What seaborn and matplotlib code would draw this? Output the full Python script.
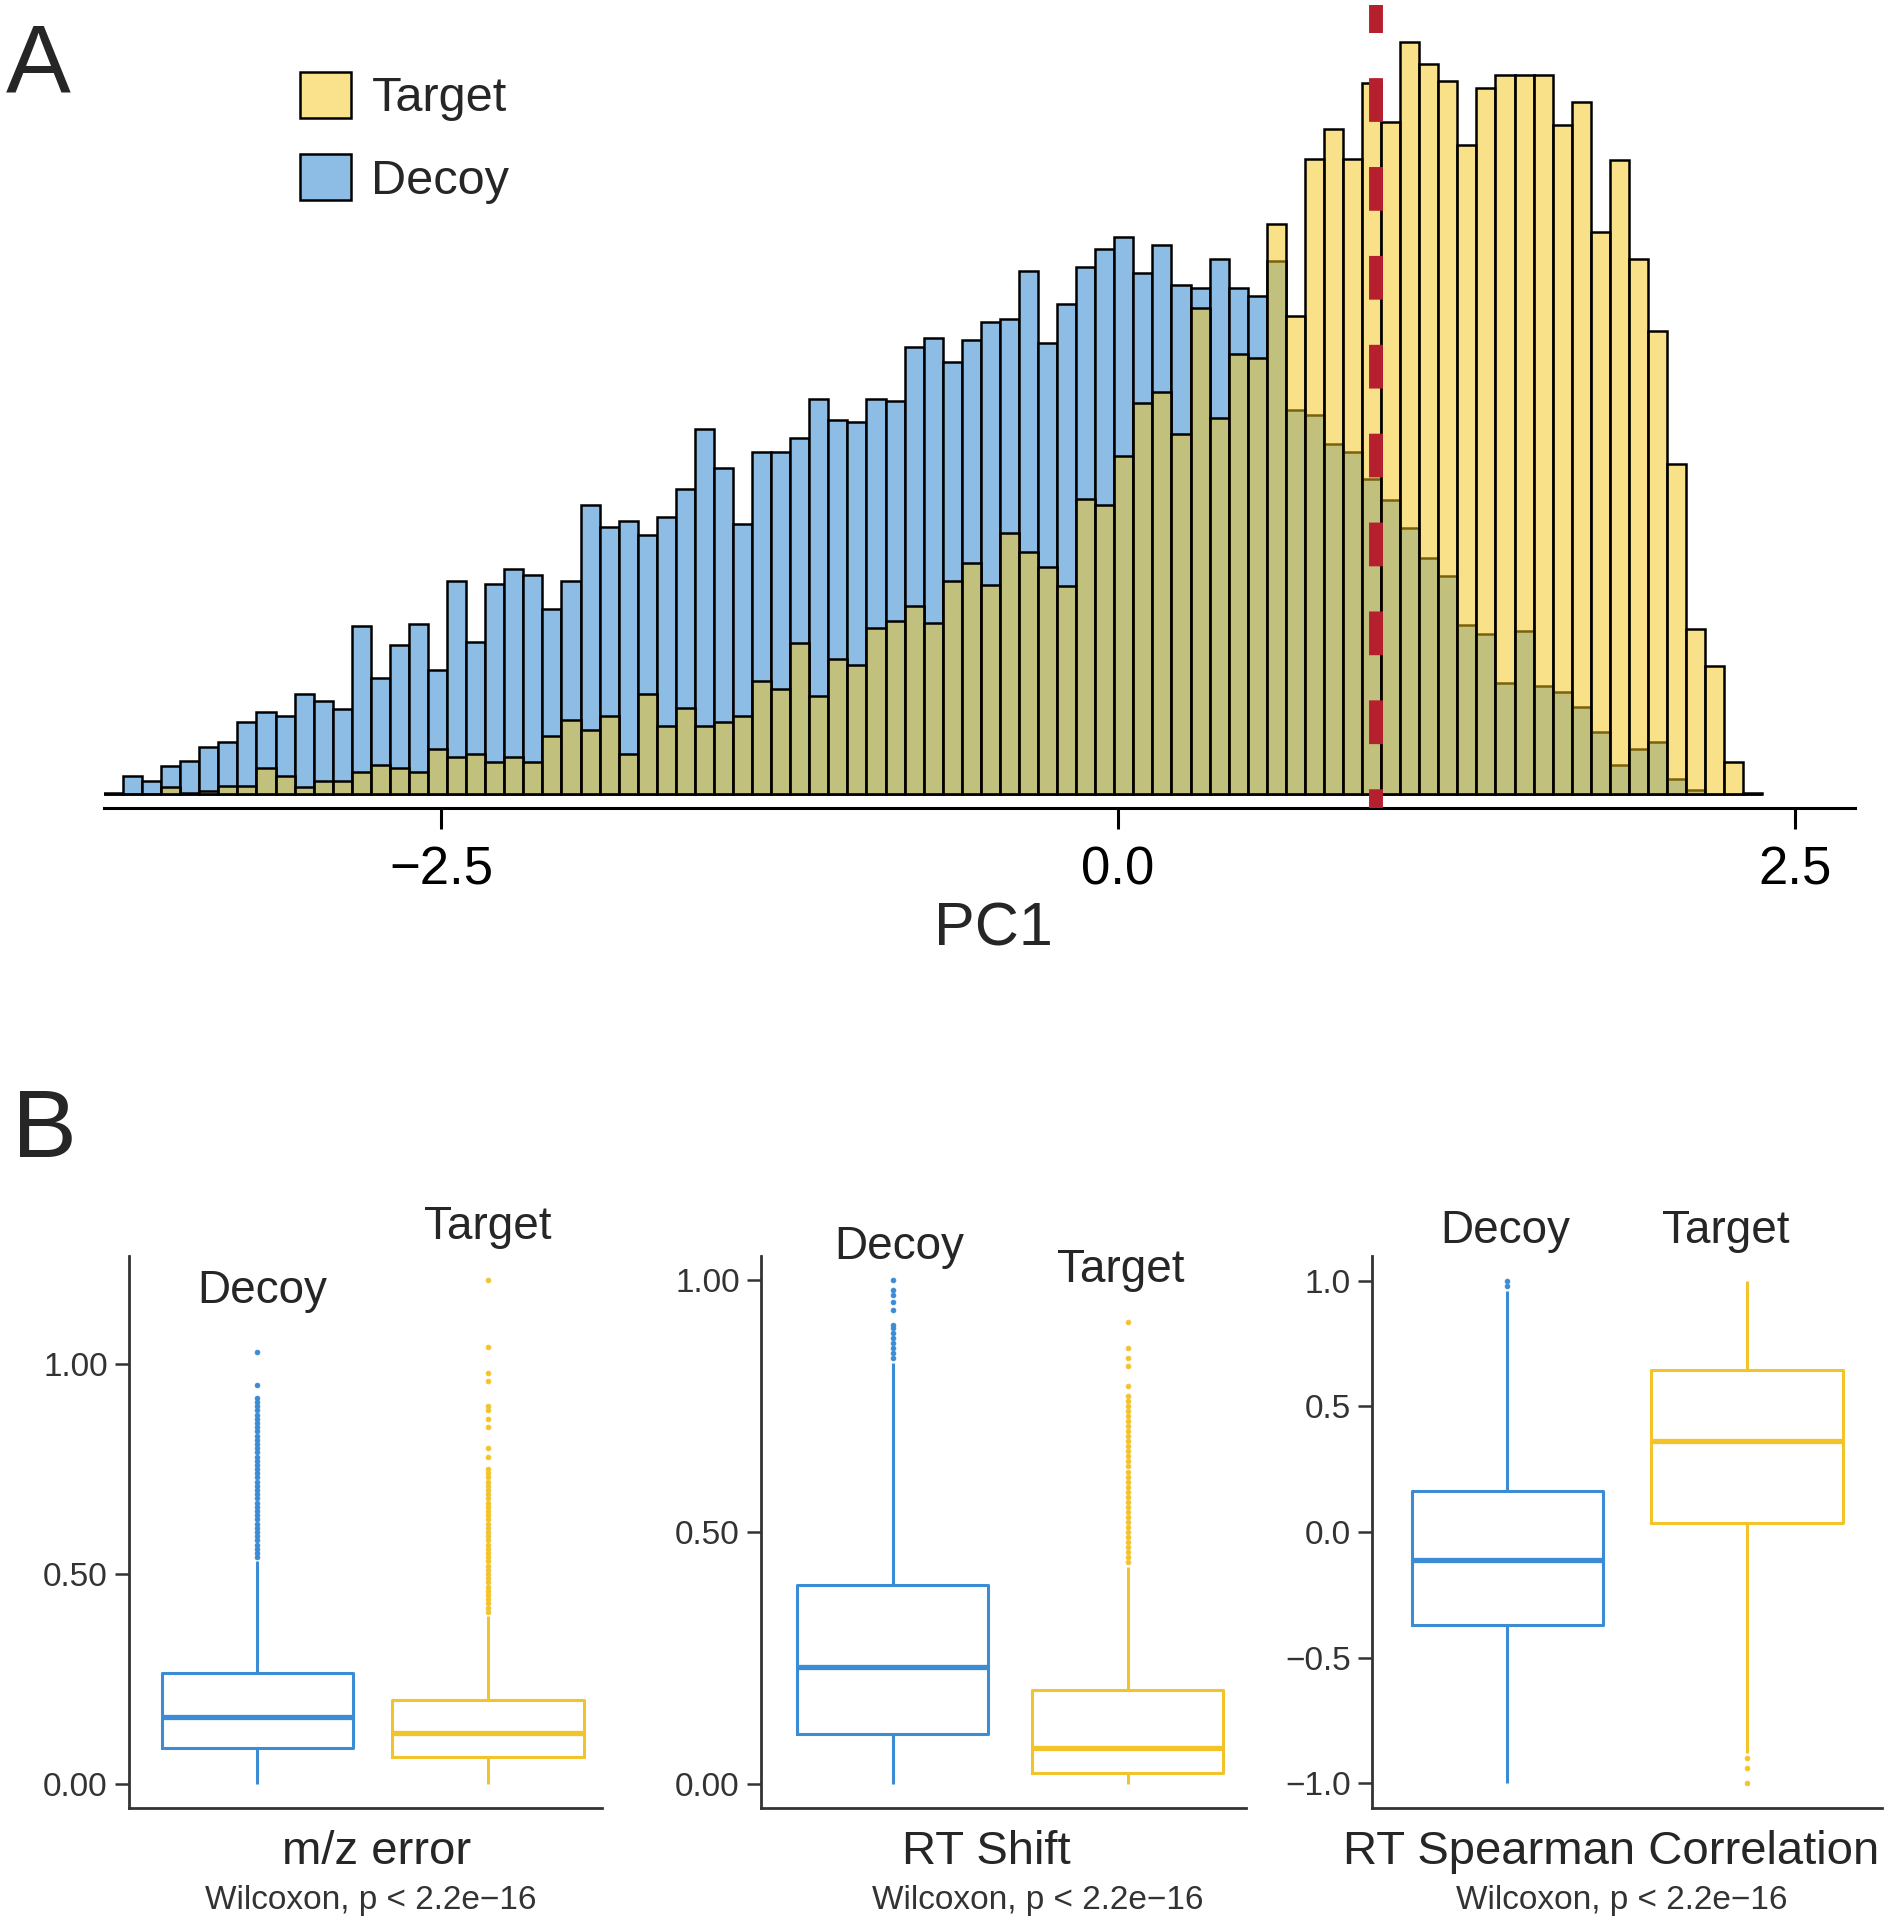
import numpy as np
import pandas as pd
import seaborn as sns
import matplotlib.pyplot as plt
from matplotlib.patches import Patch

# ---- panel A: PC1 histogram (bin counts) ----
bin_start = -3.745
bin_width = 0.0704
decoy_counts = [1, 18, 13, 28, 33, 47, 52, 72, 82, 78,
                100, 93, 85, 168, 116, 149, 170, 124, 213, 152,
                210, 225, 219, 185, 213, 289, 267, 273, 259, 277,
                305, 365, 326, 270, 342, 342, 356, 395, 374, 372,
                395, 393, 447, 456, 432, 454, 472, 475, 523, 451,
                490, 527, 545, 557, 521, 549, 509, 506, 535, 506,
                498, 533, 384, 379, 350, 342, 315, 294, 266, 236,
                218, 169, 160, 111, 163, 108, 102, 87, 62, 29,
                45, 52, 15, 4, 0, 0, 0]
target_counts = [0, 0, 0, 7, 1, 3, 8, 8, 26, 18,
                 7, 13, 13, 22, 29, 26, 22, 45, 37, 40,
                 32, 37, 32, 58, 74, 64, 78, 40, 100, 68,
                 86, 68, 72, 78, 113, 105, 151, 98, 135, 129,
                 166, 173, 188, 171, 213, 231, 209, 261, 242, 227,
                 208, 295, 289, 338, 391, 402, 360, 486, 376, 440,
                 436, 570, 478, 635, 665, 635, 711, 672, 752, 730,
                 713, 649, 706, 719, 719, 719, 669, 692, 562, 634,
                 535, 463, 330, 165, 128, 32, 1]
cutoff = 0.953

# ---- panel B: box plot summaries (low whisker, Q1, median, Q3, high whisker) ----
groups = ["Decoy", "Target"]
mz_decoy = [0.0, 0.084, 0.158, 0.263, 0.53]
mz_target = [0.0, 0.064, 0.120, 0.199, 0.40]
rt_decoy = [0.0, 0.0995, 0.231, 0.395, 0.835]
rt_target = [0.0, 0.021, 0.071, 0.185, 0.43]
sp_decoy = [-1.0, -0.371, -0.111, 0.162, 0.96]
sp_target = [-0.88, 0.035, 0.363, 0.646, 1.0]

mz_decoy_out = [0.54, 0.55, 0.56, 0.57, 0.58, 0.59, 0.60, 0.61, 0.62, 0.63,
                0.64, 0.65, 0.66, 0.67, 0.68, 0.69, 0.70, 0.71, 0.72, 0.73,
                0.74, 0.75, 0.76, 0.77, 0.78, 0.79, 0.80, 0.81, 0.82, 0.83,
                0.84, 0.85, 0.86, 0.87, 0.88, 0.89, 0.90, 0.91, 0.92, 0.95, 1.03]
mz_target_out = [0.41, 0.42, 0.43, 0.44, 0.45, 0.46, 0.47, 0.48, 0.49, 0.50,
                 0.51, 0.52, 0.53, 0.54, 0.55, 0.56, 0.57, 0.58, 0.59, 0.60,
                 0.61, 0.62, 0.63, 0.64, 0.65, 0.66, 0.67, 0.68, 0.69, 0.70,
                 0.71, 0.72, 0.73, 0.74, 0.75, 0.78, 0.80, 0.85, 0.87, 0.89,
                 0.90, 0.96, 0.98, 1.04, 1.20]
rt_decoy_out = [0.845, 0.855, 0.865, 0.875, 0.885, 0.895, 0.905, 0.912,
                0.94, 0.956, 0.97, 0.98, 1.0]
rt_target_out = [0.44, 0.45, 0.46, 0.47, 0.48, 0.49, 0.50, 0.51, 0.52, 0.53,
                 0.54, 0.55, 0.56, 0.57, 0.58, 0.59, 0.60, 0.61, 0.62, 0.63,
                 0.64, 0.65, 0.66, 0.67, 0.68, 0.69, 0.70, 0.71, 0.72, 0.73,
                 0.74, 0.75, 0.76, 0.77, 0.79, 0.83, 0.845, 0.865, 0.917]
sp_decoy_out = [0.98, 1.0]
sp_target_out = [-0.90, -0.94, -1.0]

titles = ["m/z error", "RT Shift", "RT Spearman Correlation"]
test_label = "Wilcoxon, p < 2.2e\u221216"


def box_values(stats, outliers):
    # observations whose quartiles / whiskers reproduce the summary
    lo, q1, med, q3, hi = stats
    low = [lo] + [v for v in outliers if v < lo]
    high = [hi] + [v for v in outliers if v > hi]
    k = max(len(low), len(high)) + 1
    return (low + [q1] * (k - len(low)) + [q1] + [med] * (2 * k - 1)
            + [q3] + high + [q3] * (k - len(high)))


sns.set_style("white")
plt.rcParams["font.family"] = ["Liberation Sans", "DejaVu Sans"]

W, H = 1889, 1920
fig = plt.figure(figsize=(W / 100, H / 100), dpi=100)

blue_fill = "#8DBDE5"
yellow_fill = (0.96, 0.77, 0.09, 0.5)
box_colors = {"Decoy": "#3B8BD5", "Target": "#F3C32B"}

# ---------------- panel A ----------------
ax = fig.add_axes([104 / W, 1 - 808 / H, 1751 / W, 788 / H])
edges = list(bin_start + bin_width * np.arange(len(decoy_counts) + 1))
hist_df = pd.DataFrame({"pc1": [e + bin_width / 2 for e in edges[:-1]],
                        "decoy": decoy_counts, "target": target_counts})

sns.histplot(data=hist_df, x="pc1", weights="decoy", bins=edges, ax=ax,
             color=blue_fill, edgecolor="black", linewidth=1.8)
n0 = len(ax.patches)
for p in ax.patches:
    p.set_alpha(None)
    p.set_facecolor(blue_fill)
    p.set_edgecolor("black")
sns.histplot(data=hist_df, x="pc1", weights="target", bins=edges, ax=ax,
             color="#F5C518", edgecolor="black", linewidth=1.8)
for p in ax.patches[n0:]:
    p.set_alpha(None)
    p.set_facecolor(yellow_fill)
    p.set_edgecolor("black")

ax.axvline(cutoff, ymin=0, ymax=(808 - 5) / 788, color="#B51F2E", lw=10,
           linestyle=(1.8, (3.15, 3.25)), clip_on=False, zorder=5)

ax.set_xlim(-3.745, 2.722)
ax.set_ylim(-14, 774)
ax.set_xticks([-2.5, 0, 2.5])
ax.set_xticklabels(["\u22122.5", "0.0", "2.5"])
ax.tick_params(axis="x", direction="out", length=15, width=2.2, labelsize=38,
               pad=12, colors="black", bottom=True)
ax.tick_params(axis="y", left=False, labelleft=False)
ax.set_ylabel("")
ax.set_xlabel("PC1", fontsize=44, labelpad=4)
ax.xaxis.label.set_x(0.508)
for s in ["left", "top", "right"]:
    ax.spines[s].set_visible(False)
ax.spines["bottom"].set_linewidth(2.2)
ax.spines["bottom"].set_color("black")

fig.legend(handles=[Patch(facecolor="#FAE28C", edgecolor="black", lw=1.8, label="Target"),
                    Patch(facecolor=blue_fill, edgecolor="black", lw=1.8, label="Decoy")],
           loc="upper left", bbox_to_anchor=(300 / W, 1 - 72 / H), frameon=False,
           fontsize=35, handlelength=1.05, handleheight=1.07, handletextpad=0.42,
           labelspacing=0.68, borderpad=0, borderaxespad=0)

fig.text(6 / W, 1 - 92 / H, "A", fontsize=70, va="baseline")
fig.text(12 / W, 1 - 1157 / H, "B", fontsize=70, va="baseline")

# ---------------- panel B ----------------
summaries = [(mz_decoy, mz_target, mz_decoy_out, mz_target_out),
             (rt_decoy, rt_target, rt_decoy_out, rt_target_out),
             (sp_decoy, sp_target, sp_decoy_out, sp_target_out)]
axes_px = [(128.6, 602.0), (760.6, 1246.0), (1371.5, 1882.0)]
xlims = [(-0.558, 1.494), (-0.562, 1.504), (-0.567, 1.563)]
box_w = [0.83, 0.81, 0.80]
ylims = [(-0.058, 1.259), (-0.0485, 1.049), (-1.099, 1.10)]
yticks = [[0, 0.5, 1.0], [0, 0.5, 1.0], [-1, -0.5, 0, 0.5, 1.0]]
yticklabels = [["0.00", "0.50", "1.00"], ["0.00", "0.50", "1.00"],
               ["\u22121.0", "\u22120.5", "0.0", "0.5", "1.0"]]
group_label_pos = [[(0.02, 1.145), (1.0, 1.298)],
                   [(0.03, 1.042), (0.97, 0.997)],
                   [(-0.01, 1.150), (0.91, 1.150)]]
title_x = [377, 986, 1611]
test_x = [371, 1038, 1622]

for i, (d_stats, t_stats, d_out, t_out) in enumerate(summaries):
    left, right = axes_px[i]
    bx = fig.add_axes([left / W, 1 - 1808 / H, (right - left) / W, (1808 - 1255.6) / H])
    d_vals = box_values(d_stats, d_out)
    t_vals = box_values(t_stats, t_out)
    df = pd.DataFrame({"group": ["Decoy"] * len(d_vals) + ["Target"] * len(t_vals),
                       "value": d_vals + t_vals})
    sns.boxplot(data=df, x="group", y="value", hue="group", order=groups,
                hue_order=groups, palette=box_colors, fill=False, width=box_w[i],
                linewidth=2.2, showcaps=False, whis=1.5, legend=False, ax=bx,
                flierprops=dict(marker="o", markersize=3.4, markeredgewidth=0.6),
                medianprops=dict(linewidth=3.8))
    for ln in bx.lines:
        if ln.get_marker() == "o":
            ln.set_markerfacecolor(ln.get_markeredgecolor())

    bx.set_xlim(*xlims[i])
    bx.set_ylim(*ylims[i])
    bx.set_yticks(yticks[i])
    bx.set_yticklabels(yticklabels[i])
    bx.set_xlabel("")
    bx.set_ylabel("")
    bx.tick_params(axis="x", bottom=False, labelbottom=False)
    bx.tick_params(axis="y", left=True, direction="out", length=10, width=1.8,
                   labelsize=24, pad=5, colors="#333333")
    for s in ["top", "right"]:
        bx.spines[s].set_visible(False)
    for s in ["left", "bottom"]:
        bx.spines[s].set_linewidth(2.0)
        bx.spines[s].set_color("#333333")

    for g, (gx, gy) in zip(groups, group_label_pos[i]):
        bx.text(gx, gy, g, fontsize=33, ha="center", va="baseline", clip_on=False)

    fig.text(title_x[i] / W, 1 - 1864 / H, titles[i], fontsize=34,
             ha="center", va="baseline")
    fig.text(test_x[i] / W, 1 - 1909 / H, test_label, fontsize=24,
             ha="center", va="baseline", color="#333333")

fig.savefig("out.png", dpi=100)
